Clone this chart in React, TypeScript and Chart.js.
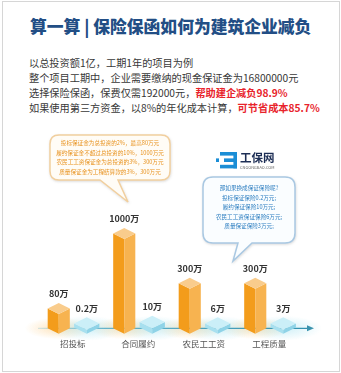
import React, { useEffect, useRef } from 'react';
import { Chart, registerables, LinearScale } from 'chart.js';

// ---------- data ----------
const categories = ['招投标', '合同履约', '农民工工资', '工程质量'];
const cashDeposit = [80, 1000, 300, 300]; // 万元, 现金保证金
const insurancePremium = [0.2, 10, 6, 3]; // 万元, 保证保险
const valueUnit = '万';
const yMax = 1000;

const titleText = '算一算 | 保险保函如何为建筑企业减负';
const introLines: { normal: string; red?: string }[] = [
  { normal: '以总投资额1亿，工期1年的项目为例' },
  { normal: '整个项目工期中，企业需要缴纳的现金保证金为16800000元' },
  { normal: '选择保险保函，保费仅需192000元，', red: '帮助建企减负98.9%' },
  { normal: '如果使用第三方资金，以8%的年化成本计算，', red: '可节省成本85.7%' },
];
const depositNotes = [
  '投标保证金为总投资的2%，最高80万元',
  '履约保证金不超过总投资的10%，1000万元',
  '农民工工资保证金为总投资的3%，300万元',
  '质量保证金为工程结算款的3%，300万元',
];
const insuranceNotes = [
  '那如果换成保证保险呢?',
  '投标保证保险0.2万元;',
  '履约保证保险10万元;',
  '农民工工资保证保险6万元;',
  '质量保证保险3万元;',
];

// ---------- a power scale (infographic-style compression) ----------
const EXP = 0.62;
class PowScale extends LinearScale {
  static id = 'pow';
  getPixelForValue(value: number) {
    const max = (this as any).max || 1;
    const t = Math.pow(Math.max(0, value || 0), EXP) / Math.pow(max, EXP);
    return (this as any).getPixelForDecimal(t);
  }
  getValueForPixel(pixel: number) {
    const t = Math.max(0, (this as any).getDecimalForPixel(pixel));
    return Math.pow(t, 1 / EXP) * (this as any).max;
  }
}
Chart.register(...registerables, PowScale as any);

const ORANGE = { top: '#F9CC8C', left: '#F39C1B', right: '#F7B350', glow: 'rgba(252,200,120,' };
const BLUE = { top: '#CBEFF8', left: '#A8E0EF', right: '#8FD3E7', glow: 'rgba(160,225,240,' };

const box3d = {
  id: 'box3d',
  beforeDatasetsDraw(chart: any) {
    const ctx = chart.ctx as CanvasRenderingContext2D;
    const area = chart.chartArea;
    const axisY = area.bottom - 5.5;
    ctx.save();
    chart.data.datasets.forEach((ds: any, di: number) => {
      const pal = di === 0 ? ORANGE : BLUE;
      chart.getDatasetMeta(di).data.forEach((el: any) => {
        const p = el.getProps(['x', 'width'], true);
        const g = ctx.createRadialGradient(p.x, axisY, 0, p.x, axisY, p.width * 1.1);
        g.addColorStop(0, pal.glow + '0.5)');
        g.addColorStop(1, pal.glow + '0)');
        ctx.save();
        ctx.translate(p.x, axisY);
        ctx.scale(1.4, 0.45);
        ctx.translate(-p.x, -axisY);
        ctx.fillStyle = g;
        ctx.beginPath();
        ctx.arc(p.x, axisY, p.width * 1.1, 0, Math.PI * 2);
        ctx.fill();
        ctx.restore();
      });
    });
    const x0 = area.left - 2;
    const x1 = area.right + 6;
    const lg = ctx.createLinearGradient(x0, 0, x1, 0);
    lg.addColorStop(0, 'rgba(90,175,200,0.25)');
    lg.addColorStop(0.25, 'rgba(70,165,195,0.8)');
    lg.addColorStop(1, 'rgba(50,145,175,1)');
    ctx.strokeStyle = lg;
    ctx.lineWidth = 1.3;
    ctx.beginPath();
    ctx.moveTo(x0, axisY);
    ctx.lineTo(x1, axisY);
    ctx.stroke();
    ctx.fillStyle = '#3B93AE';
    ctx.beginPath();
    ctx.moveTo(x1 + 6, axisY);
    ctx.lineTo(x1 - 1, axisY - 3);
    ctx.lineTo(x1 - 1, axisY + 3);
    ctx.closePath();
    ctx.fill();
    ctx.restore();
  },
  afterDatasetsDraw(chart: any) {
    const ctx = chart.ctx as CanvasRenderingContext2D;
    ctx.save();
    chart.data.datasets.forEach((ds: any, di: number) => {
      const pal = di === 0 ? ORANGE : BLUE;
      chart.getDatasetMeta(di).data.forEach((el: any, i: number) => {
        const { x, y, base, width } = el.getProps(['x', 'y', 'base', 'width'], true);
        const hw = width / 2;
        const d = width * 0.25;
        ctx.fillStyle = pal.left;
        ctx.beginPath();
        ctx.moveTo(x - hw, y - d);
        ctx.lineTo(x, y);
        ctx.lineTo(x, base);
        ctx.lineTo(x - hw, base - d);
        ctx.closePath();
        ctx.fill();
        ctx.fillStyle = pal.right;
        ctx.beginPath();
        ctx.moveTo(x, y);
        ctx.lineTo(x + hw, y - d);
        ctx.lineTo(x + hw, base - d);
        ctx.lineTo(x, base);
        ctx.closePath();
        ctx.fill();
        ctx.fillStyle = pal.top;
        ctx.beginPath();
        ctx.moveTo(x, y);
        ctx.lineTo(x - hw, y - d);
        ctx.lineTo(x, y - 2 * d);
        ctx.lineTo(x + hw, y - d);
        ctx.closePath();
        ctx.fill();
        ctx.fillStyle = '#333';
        ctx.font = 'bold 9px "Noto Sans CJK SC", sans-serif';
        ctx.textAlign = 'center';
        ctx.textBaseline = 'middle';
        ctx.fillText(String(ds.data[i]) + valueUnit, x, y - 2 * d - 9);
      });
    });
    ctx.restore();
  },
};

function BarChart() {
  const ref = useRef<HTMLCanvasElement>(null);
  useEffect(() => {
    const chart = new Chart(ref.current!, {
      type: 'bar',
      data: {
        labels: categories,
        datasets: [
          {
            label: '现金保证金',
            data: cashDeposit,
            backgroundColor: 'rgba(0,0,0,0)',
            barPercentage: 0.79,
            categoryPercentage: 0.855,
          },
          {
            label: '保证保险',
            data: insurancePremium,
            backgroundColor: 'rgba(0,0,0,0)',
            barPercentage: 0.9,
            categoryPercentage: 0.855,
            minBarLength: 4,
          },
        ],
      },
      options: {
        responsive: false,
        animation: false,
        events: [],
        layout: { padding: { left: 40, right: 39, top: 49, bottom: 6 } },
        plugins: { legend: { display: false }, tooltip: { enabled: false }, title: { display: false } },
        scales: {
          x: {
            grid: { display: false, drawTicks: false },
            border: { display: false },
            ticks: {
              padding: 5,
              color: '#555',
              font: { size: 8.5, family: '"Noto Sans CJK SC", sans-serif' },
            },
          },
          y: { type: 'pow' as any, display: false, min: 0, max: yMax },
        },
      } as any,
      plugins: [box3d],
    });
    return () => chart.destroy();
  }, []);
  return <canvas ref={ref} width={341} height={170} style={{ width: 341, height: 170, display: 'block' }} />;
}

function bubblePath(x: number, y: number, w: number, h: number, r: number, t1: number, t2: number, tx: number, ty: number) {
  return `M${x + r},${y} H${x + w - r} Q${x + w},${y} ${x + w},${y + r} V${y + h - r} Q${x + w},${y + h} ${x + w - r},${y + h} H${t2} L${tx},${ty} L${t1},${y + h} H${x + r} Q${x},${y + h} ${x},${y + h - r} V${y + r} Q${x},${y} ${x + r},${y} Z`;
}

const font = '"Noto Sans CJK SC", "Noto Sans", sans-serif';

export default function App() {
  return (
    <div style={{ position: 'absolute', left: 0, top: 0, width: 341, height: 373, background: '#fff', overflow: 'hidden', fontFamily: font }}>
      <div style={{ position: 'absolute', left: 2, top: 1, width: 336, height: 369, border: '1px solid #d6d6d6' }} />
      <div style={{ position: 'absolute', left: 0, top: 190 }}>
        <BarChart />
      </div>
      <div style={{ position: 'absolute', left: 30, top: 14, fontSize: 16.8, fontWeight: 900, color: '#224E85', whiteSpace: 'nowrap', lineHeight: '24px' }}>
        {titleText}
      </div>
      <div style={{ position: 'absolute', left: 29, top: 54.5, fontSize: 10.2, color: '#383838', lineHeight: '15px', whiteSpace: 'nowrap' }}>
        {introLines.map((l, i) => (
          <div key={i}>
            {l.normal}
            {l.red ? <span style={{ color: '#E8232B', fontWeight: 'bold' }}>{l.red}</span> : null}
          </div>
        ))}
      </div>
      <svg width={341} height={373} style={{ position: 'absolute', left: 0, top: 0 }}>
        <defs>
          <filter id="sh" x="-10%" y="-10%" width="120%" height="130%">
            <feDropShadow dx="0.5" dy="1" stdDeviation="1" floodColor="#999" floodOpacity="0.35" />
          </filter>
        </defs>
        <path d={bubblePath(50, 135, 120, 45, 9, 100, 118, 128, 202)} fill="#FFFCF6" stroke="#F1CF9E" strokeWidth={1.5} filter="url(#sh)" />
        <path d={bubblePath(203, 177, 92, 66, 10, 238, 252, 233, 261)} fill="#FAFDFF" stroke="#A9C8E2" strokeWidth={1.5} filter="url(#sh)" />
        <g fill="#1B8ED6">
          <rect x={220} y={152} width={17} height={3.6} />
          <rect x={224} y={158.4} width={13} height={3.6} />
          <rect x={220} y={164.8} width={17} height={3.6} />
          <rect x={233.4} y={152} width={3.6} height={16.4} />
          <rect x={216} y={158.4} width={3} height={3.6} />
        </g>
      </svg>
      <div style={{ position: 'absolute', left: 240, top: 150, fontSize: 11.5, fontWeight: 'bold', color: '#1D2E55', lineHeight: '14px', whiteSpace: 'nowrap' }}>工保网</div>
      <div style={{ position: 'absolute', left: 240, top: 165, fontSize: 4, color: '#666', lineHeight: '5px', whiteSpace: 'nowrap' }}>CNGONGBAO.COM</div>
      <div style={{ position: 'absolute', left: 50, width: 120, top: 139.3, fontSize: 5.6, color: '#E8921E', lineHeight: '9.4px', textAlign: 'center', whiteSpace: 'nowrap' }}>
        {depositNotes.map((t, i) => <div key={i}>{t}</div>)}
      </div>
      <div style={{ position: 'absolute', left: 203, width: 92, top: 184.3, fontSize: 5.6, color: '#2E7FC1', lineHeight: '9.5px', textAlign: 'center', whiteSpace: 'nowrap' }}>
        {insuranceNotes.map((t, i) => <div key={i}>{t}</div>)}
      </div>
    </div>
  );
}
